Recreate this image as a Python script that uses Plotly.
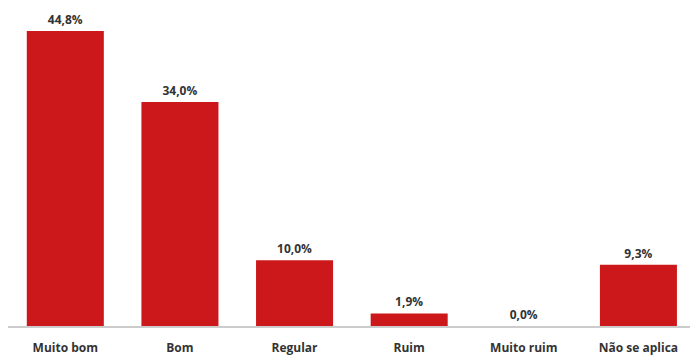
import plotly.graph_objects as go

categories = ["Muito bom", "Bom", "Regular", "Ruim", "Muito ruim", "Não se aplica"]
values = [44.8, 34.0, 10.0, 1.9, 0.0, 9.3]
labels = ["44,8%", "34,0%", "10,0%", "1,9%", "0,0%", "9,3%"]

fig = go.Figure(go.Bar(
    x=categories, y=values, text=labels, textposition="outside",
    marker=dict(color="#CC181A", line=dict(width=0)),
    width=0.672, cliponaxis=False,
    textfont=dict(family="Open Sans", size=12, color="#333333", weight="bold"),
))
fig.update_layout(
    width=690, height=356, margin=dict(l=8, r=0, t=0, b=28),
    paper_bgcolor="white", plot_bgcolor="white", showlegend=False,
    uniformtext=dict(mode=False),
)
fig.update_xaxes(range=[-0.5, 5.45], showline=True, linecolor="#cccccc", linewidth=1.5,
                 ticks="outside", ticklen=10, tickcolor="rgba(0,0,0,0)",
                 tickfont=dict(family="Open Sans", size=12, color="#333333", weight="bold"),
                 showgrid=False, zeroline=False)
fig.update_yaxes(range=[0, 49.5], visible=False, showgrid=False, zeroline=False)
fig.write_html("out.html")
